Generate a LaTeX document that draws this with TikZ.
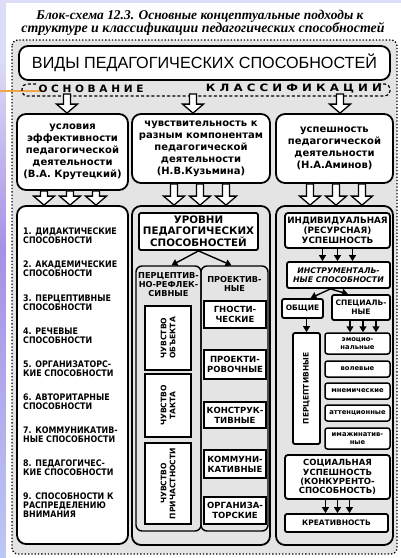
\documentclass[tikz,border=0pt]{standalone}
\usepackage{fontspec}
\setmainfont{DejaVu Sans}
\newfontfamily\titlefont{Liberation Serif}
\newfontfamily\hdrfont{Liberation Sans}
\newfontfamily\narrowfont{DejaVu Sans}[FakeStretch=0.88]
\usetikzlibrary{arrows.meta,calc}
\definecolor{lav}{HTML}{DCDCF6}
\definecolor{purp}{HTML}{A890E6}
\definecolor{lblue}{HTML}{BCC8F4}
\definecolor{speck}{HTML}{E4E4E4}
\definecolor{orng}{HTML}{F3A446}
\newcommand{\fs}[2]{\fontsize{#1}{#2}\selectfont\bfseries}
\newcommand{\bx}[7]{\node[#6, minimum width={#4pt-#2pt}, minimum height={#5pt-#3pt}] (#1) at ({(#2+#4)/2},{(#3+#5)/2}) {#7};}
\newcommand{\blockarr}[3]{\path[barr] let \p1=(#2), \p2=(#3) in
  ({(#1)*1pt-3.5pt},\y1) -- ({(#1)*1pt-3.5pt},{\y2+9pt}) -- ({(#1)*1pt-10.5pt},{\y2+9pt}) -- ({(#1)*1pt},\y2)
  -- ({(#1)*1pt+10.5pt},{\y2+9pt}) -- ({(#1)*1pt+3.5pt},{\y2+9pt}) -- ({(#1)*1pt+3.5pt},\y1) -- cycle;}
\begin{document}
\begin{tikzpicture}[x=1pt,y=-1pt,
  every node/.style={font=\bfseries, inner sep=1pt, align=center},
  rbox/.style={draw, line width=1.8pt, fill=white, rounded corners=9pt},
  cont/.style={draw, line width=1.8pt, rounded corners=9pt},
  sub/.style={draw, line width=1.4pt, rounded corners=6pt},
  sq/.style={draw, line width=1.8pt, fill=white},
  sm/.style={draw, line width=1.5pt, fill=white, rounded corners=2.5pt},
  barr/.style={draw, line width=1.3pt, fill=white, line join=miter},
  sarr/.style={line width=1.4pt, -{Triangle[length=6pt,width=7pt]}},
  li/.style={anchor=north west, align=left, font=\narrowfont\fs{9}{9}}
]
\useasboundingbox (0,0) rectangle (401,558);
\fill[lav] (0,0) rectangle (401,558);
\shade[top color=lav, bottom color=purp] (0,60) rectangle (6,250);
\shade[top color=purp, bottom color=lblue] (0,250) rectangle (6,558);
\fill[white] (6,3) rectangle (401,558);
\draw[dotted, line width=1.3pt, fill=speck, rounded corners=6pt] (12,40) rectangle (397,554);
\draw[orng, line width=1.4pt] (0,91) -- (43,91);

% title
\node[font=\titlefont\bfseries\itshape] (ti1) at (200,16) {\resizebox{327pt}{!}{Блок-схема 12.3. Основные концептуальные подходы к}};
\node[font=\titlefont\bfseries\itshape] (ti2) at (203,29) {\resizebox{363pt}{!}{структуре и классификации педагогических способностей}};

% header
\bx{hdr}{19}{46}{390}{80}{rbox}{\hdrfont\mdseries\resizebox{345pt}{!}{ВИДЫ ПЕДАГОГИЧЕСКИХ СПОСОБНОСТЕЙ}}
\draw[line width=1.2pt, dash pattern=on 3pt off 2.2pt, rounded corners=5pt] (36,84) -- (22,84) -- (22,96) -- (390,96) -- (390,84) -- (376,84);
\node (osn) at (91,89) {\resizebox{105pt}{7.5pt}{О С Н О В А Н И Е}};
\node (kla) at (294,89) {\resizebox{176pt}{7.5pt}{К Л А С С И Ф И К А Ц И И}};

% top boxes
\bx{t1}{17}{114}{128}{190}{rbox, font=\fs{10}{12}}{условия\\эффективности\\педагогической\\деятельности\\(В.А. Крутецкий)}
\bx{t2}{132}{114}{270}{183}{rbox, font=\fs{10}{12}}{чувствительность к\\разным компонентам\\педагогической\\деятельности\\(Н.В.Кузьмина)}
\bx{t3}{276}{114}{393}{183}{rbox, font=\fs{10}{12}}{успешность\\педагогической\\деятельности\\(Н.А.Аминов)}

% lower containers
\bx{l1}{17}{206}{128}{544}{rbox}{}
\bx{l2}{132}{206}{270}{545}{cont}{}
\bx{l3}{276}{206}{393}{545}{cont}{}

% left list
\node[li] (i1) at (22,226.5) {1. ДИДАКТИЧЕСКИЕ\\СПОСОБНОСТИ};
\node[li] (i2) at (22,259.5) {2. АКАДЕМИЧЕСКИЕ\\СПОСОБНОСТИ};
\node[li] (i3) at (22,293.5) {3. ПЕРЦЕПТИВНЫЕ\\СПОСОБНОСТИ};
\node[li] (i4) at (22,326.5) {4. РЕЧЕВЫЕ\\СПОСОБНОСТИ};
\node[li] (i5) at (22,359.5) {5. ОРГАНИЗАТОРС-\\КИЕ СПОСОБНОСТИ};
\node[li] (i6) at (22,392.5) {6. АВТОРИТАРНЫЕ\\СПОСОБНОСТИ};
\node[li] (i7) at (22,425.5) {7. КОММУНИКАТИВ-\\НЫЕ СПОСОБНОСТИ};
\node[li] (i8) at (22,458.5) {8. ПЕДАГОГИЧЕС-\\КИЕ СПОСОБНОСТИ};
\node[li] (i9) at (22,491.5) {9. СПОСОБНОСТИ К\\РАСПРЕДЕЛЕНИЮ\\ВНИМАНИЯ};

% middle column
\bx{ur}{139}{213}{258}{250}{sq, rounded corners=2pt, font=\fs{10.3}{10.5}}{УРОВНИ\\ПЕДАГОГИЧЕСКИХ\\СПОСОБНОСТЕЙ}
\bx{pr}{136}{266}{201}{531}{sub}{}
\node[font=\fs{8.2}{9}] (prt) at (168.5,285) {ПЕРЦЕПТИВ-\\НО-РЕФЛЕК-\\СИВНЫЕ};
\bx{pv}{201}{266}{268}{531}{sub}{}
\node[font=\fs{8.2}{9}] (pvt) at (234.5,284) {ПРОЕКТИВ-\\НЫЕ};
\bx{o1}{145}{306}{191}{370}{sq}{}
\node[rotate=90, font=\fs{7.6}{9}] (o1t) at (o1.center) {ЧУВСТВО\\ОБЪЕКТА};
\bx{o2}{145}{374}{191}{437}{sq}{}
\node[rotate=90, font=\fs{7.6}{9}] (o2t) at (o2.center) {ЧУВСТВО\\ТАКТА};
\bx{o3}{145}{443}{191}{524}{sq}{}
\node[rotate=90, font=\fs{7.6}{9}] (o3t) at (o3.center) {ЧУВСТВО\\ПРИЧАСТНОСТИ};
\bx{g1}{204}{301}{266}{328}{sq, font=\fs{8.5}{10}}{ГНОСТИ-\\ЧЕСКИЕ}
\bx{g2}{204}{350}{266}{379}{sq, font=\fs{8.5}{10}}{ПРОЕКТИ-\\РОВОЧНЫЕ}
\bx{g3}{204}{402}{266}{428}{sq, font=\fs{8.5}{10}}{КОНСТРУК-\\ТИВНЫЕ}
\bx{g4}{204}{450}{266}{478}{sq, font=\fs{8.5}{10}}{КОММУНИ-\\КАТИВНЫЕ}
\bx{g5}{204}{497}{266}{524}{sq, font=\fs{8.5}{10}}{ОРГАНИЗА-\\ТОРСКИЕ}

% right column
\bx{ind}{285}{213}{390}{248}{sq, rounded corners=3pt, font=\fs{8.8}{9.8}}{ИНДИВИДУАЛЬНАЯ\\(РЕСУРСНАЯ)\\УСПЕШНОСТЬ}
\bx{instr}{287}{262}{390}{288}{sq, rounded corners=2pt, font=\fs{7.8}{9}\itshape}{ИНСТРУМЕНТАЛЬ-\\НЫЕ СПОСОБНОСТИ}
\bx{obsh}{282}{299}{323}{318}{sq, rounded corners=2pt, font=\fs{7.5}{9}}{ОБЩИЕ}
\bx{spec}{332}{295}{390}{320}{sq, rounded corners=2pt, font=\fs{7.5}{9}}{СПЕЦИАЛЬ-\\НЫЕ}
\bx{perc}{293}{333}{320}{444}{sq, rounded corners=2pt}{}
\node[rotate=90, font=\fs{7.5}{8.5}] (perct) at (perc.center) {ПЕРЦЕПТИВНЫЕ};
\bx{emo}{325}{333}{390}{354}{sm, font=\fs{6.8}{7.8}}{эмоцио-\\нальные}
\bx{vol}{325}{361}{390}{377}{sm, font=\fs{6.8}{7.8}}{волевые}
\bx{mne}{325}{383}{390}{399}{sm, font=\fs{6.8}{7.8}}{мнемические}
\bx{att}{325}{405}{390}{421}{sm, font=\fs{6.8}{7.8}}{аттенционные}
\bx{ima}{325}{428}{390}{449}{sm, font=\fs{6.8}{7.8}}{имажинатив-\\ные}
\bx{soc}{285}{455}{390}{499}{sq, rounded corners=3pt, font=\fs{8.5}{9.2}}{СОЦИАЛЬНАЯ\\УСПЕШНОСТЬ\\(КОНКУРЕНТО-\\СПОСОБНОСТЬ)}
\bx{kre}{285}{514}{388}{532}{sq, rounded corners=2pt, font=\fs{7.5}{9}}{КРЕАТИВНОСТЬ}

% block arrows
\coordinate (a1) at (67,94);
\coordinate (a2) at (193,94);
\coordinate (a3) at (340,94);
\blockarr{67}{a1}{t1.north}
\blockarr{193}{a2}{t2.north}
\blockarr{340}{a3}{t3.north}
\blockarr{44}{t1.south}{l1.north}
\blockarr{70}{t1.south}{l1.north}
\blockarr{96}{t1.south}{l1.north}
\blockarr{174}{t2.south}{l2.north}
\blockarr{200}{t2.south}{l2.north}
\blockarr{226}{t2.south}{l2.north}
\blockarr{310}{t3.south}{l3.north}
\blockarr{336}{t3.south}{l3.north}
\blockarr{362}{t3.south}{l3.north}

% small arrows
\draw[sarr] (ur.south) -- ($(pr.north)+(3,0)$);
\draw[sarr] (ur.south) -- ($(pv.north)+(-3,0)$);
\coordinate (c1) at ($(ind.south)+(-15,0)$);
\coordinate (c2) at ($(ind.south)+(0,0)$);
\coordinate (c3) at ($(ind.south)+(15,0)$);
\draw[sarr] (c1) -- (c1 |- instr.north);
\draw[sarr] (c2) -- (c2 |- instr.north);
\draw[sarr] (c3) -- (c3 |- instr.north);
\coordinate (d0) at ($(instr.south)+(-8,0)$);
\draw[sarr] (d0) -- ($(obsh.north)+(8,0)$);
\draw[sarr] (d0) -- ($(spec.north)+(-13,0)$);
\draw[sarr] (perc.north |- obsh.south) -- (perc.north);
\coordinate (e1) at ($(spec.south)+(-11,0)$);
\coordinate (e2) at ($(spec.south)+(2,0)$);
\coordinate (e3) at ($(spec.south)+(15,0)$);
\draw[sarr] (e1) -- (e1 |- emo.north);
\draw[sarr] (e2) -- (e2 |- emo.north);
\draw[sarr] (e3) -- (e3 |- emo.north);
\coordinate (f1) at ($(soc.south)+(-12,0)$);
\coordinate (f2) at ($(soc.south)+(0,0)$);
\coordinate (f3) at ($(soc.south)+(12,0)$);
\draw[sarr] (f1) -- (f1 |- kre.north);
\draw[sarr] (f2) -- (f2 |- kre.north);
\draw[sarr] (f3) -- (f3 |- kre.north);
\end{tikzpicture}
\end{document}
